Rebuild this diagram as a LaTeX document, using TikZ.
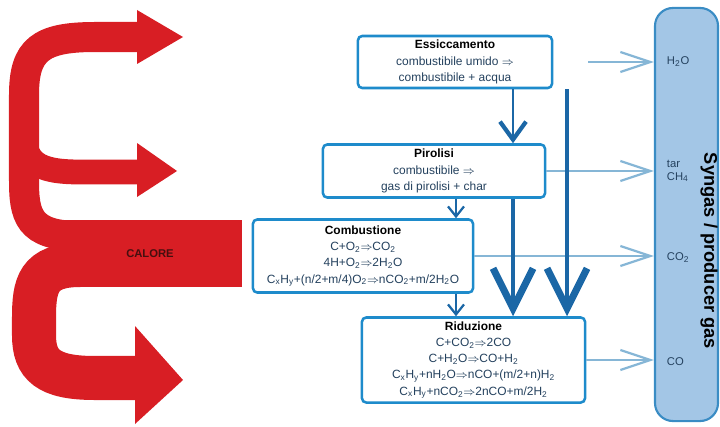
\documentclass[tikz,border=0pt]{standalone}
\usepackage{fontspec}
\setmainfont{Liberation Sans}
\usetikzlibrary{arrows.meta,positioning}

\definecolor{boxblue}{HTML}{1E8BCB}
\definecolor{flowblue}{HTML}{1B67A6}
\definecolor{gasblue}{HTML}{86B6D6}
\definecolor{barfill}{HTML}{A3C6E6}
\definecolor{barline}{HTML}{3A8CC4}
\definecolor{heatred}{HTML}{D81E24}
\definecolor{txtblue}{HTML}{24415E}
\newcommand{\subx}[1]{\textsubscript{#1}}
\newcommand{\ttl}[1]{{\color{black}\bfseries #1}}

\begin{document}
\begin{tikzpicture}[x=0.025cm, y=-0.025cm,
  stage/.style={draw=boxblue, line width=1.8pt, rounded corners=3pt, fill=white,
    align=center, inner sep=0pt, text=txtblue, font=\fontsize{8.5}{11.5}\selectfont},
  gaslbl/.style={anchor=west, align=left, text=txtblue, font=\fontsize{8}{9}\selectfont},
  gasarr/.style={draw=gasblue, line width=1.6pt, -{Straight Barb[length=7.5mm, width=5mm]}},
  bigflow/.style={draw=flowblue, line width=2.2pt, -{Straight Barb[length=10mm, width=10mm, line width=5pt]}},
  midflow/.style={draw=flowblue, line width=1.6pt, -{Straight Barb[length=4.5mm, width=6.5mm, line width=3pt]}},
  smallflow/.style={draw=flowblue, line width=1.2pt, -{Straight Barb[length=2.5mm, width=4mm, line width=1.6pt]}},
  heat/.style={draw=heatred, line width=#1}]
  \useasboundingbox (0,0) rectangle (720,426);

  % heat supply
  \fill[heatred] (60,220) rectangle (242,287);
  \draw[heat=0.75cm] (80,236) .. controls (28,236) and (24,215) .. (24,180) -- (24,95)
    .. controls (24,50) and (40,37) .. (95,37) -- (140,37);
  \draw[heat=0.62cm] (24,130) .. controls (24,162) and (36,172) .. (80,172) -- (140,172);
  \draw[heat=1.1cm] (80,265) .. controls (38,265) and (34,285) .. (34,318) -- (34,335)
    .. controls (34,365) and (48,378) .. (95,378) -- (138,378);
  \fill[heatred] (137,10) -- (183,37) -- (137,64) -- cycle;
  \fill[heatred] (137,143) -- (177,171) -- (137,197) -- cycle;
  \fill[heatred] (135,326) -- (183,380) -- (135,424) -- cycle;
  \node[font=\bfseries\fontsize{8}{8}\selectfont, text={rgb,255:red,70;green,15;blue,15}] (calore) at (150,254) {CALORE};

  % process stages
  \node[stage, minimum width=4.85cm, minimum height=1.3cm] (ess) at (455,62)
    {\ttl{Essiccamento}\\combustibile umido $\Rightarrow$\\combustibile + acqua};
  \node[stage, minimum width=5.55cm, minimum height=1.325cm] (pir) at (434,171)
    {\ttl{Pirolisi}\\combustibile $\Rightarrow$\\gas di pirolisi + char};
  \node[stage, minimum width=5.5cm, minimum height=1.825cm] (com) at (363,256)
    {\ttl{Combustione}\\C+O\subx{2}$\Rightarrow$CO\subx{2}\\4H+O\subx{2}$\Rightarrow$2H\subx{2}O\\
     C\subx{x}H\subx{y}+(n/2+m/4)O\subx{2}$\Rightarrow$nCO\subx{2}+m/2H\subx{2}O};
  \node[stage, minimum width=5.575cm, minimum height=2.125cm] (rid) at (473.5,360)
    {\ttl{Riduzione}\\C+CO\subx{2}$\Rightarrow$2CO\\C+H\subx{2}O$\Rightarrow$CO+H\subx{2}\\
     C\subx{x}H\subx{y}+nH\subx{2}O$\Rightarrow$nCO+(m/2+n)H\subx{2}\\
     C\subx{x}H\subx{y}+nCO\subx{2}$\Rightarrow$2nCO+m/2H\subx{2}};

  % syngas column
  \node[draw=barline, fill=barfill, line width=1.5pt, rounded corners=0.45cm,
    minimum width=1.575cm, minimum height=10.325cm] (syn) at (686.5,214.5) {};
  \node[rotate=-90, font=\bfseries\fontsize{13}{13}\selectfont] (syntxt) at (709,251) {Syngas / producer gas};
  \node[gaslbl] (h2o) at (662,62) {H\subx{2}O};
  \node[gaslbl] (tar) at (662,171) {tar\\CH\subx{4}};
  \node[gaslbl] (co2) at (662,258) {CO\subx{2}};
  \node[gaslbl] (co) at (662,362) {CO};

  % gas outlets
  \coordinate (h2ostart) at (588,62);
  \draw[gasarr] (h2ostart) -- (h2ostart -| syn.west);
  \draw[gasarr] (pir.east) -- (pir.east -| syn.west);
  \draw[gasarr] (com.east) -- (com.east -| syn.west);
  \draw[gasarr] (rid.east) -- (rid.east -| syn.west);

  % solid / gas flows
  \coordinate (colA) at (513,0);
  \coordinate (colB) at (567,0);
  \coordinate (colC) at (456,0);
  \draw[midflow] (ess.south -| colA) -- (pir.north -| colA);
  \draw[bigflow] (ess.south -| colB) -- (rid.north -| colB);
  \draw[bigflow] (pir.south -| colA) -- (rid.north -| colA);
  \draw[smallflow] (pir.south -| colC) -- (com.north -| colC);
  \draw[smallflow] (com.south -| colC) -- (rid.north -| colC);
\end{tikzpicture}
\end{document}
